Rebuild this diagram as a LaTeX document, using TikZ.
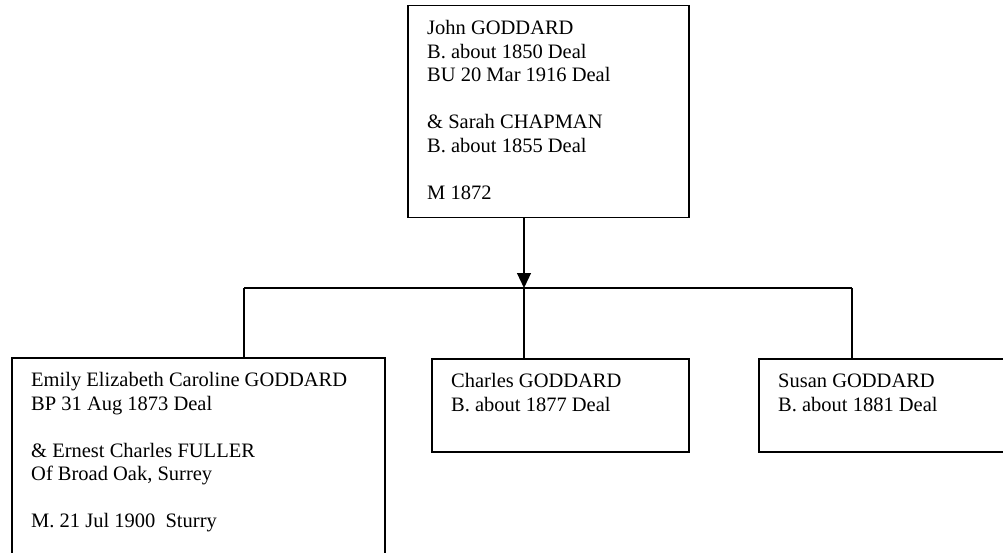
\documentclass[tikz,border=0pt]{standalone}
\usepackage{fontspec}
\setmainfont{Liberation Serif}
\usetikzlibrary{arrows.meta}
\begin{document}
\begin{tikzpicture}[x=1pt,y=-1pt,
  famBox/.style={draw=black, line width=1.5pt, rectangle, inner sep=0pt, anchor=north west},
  famText/.style={anchor=north west, inner sep=0pt, align=left, font=\fontsize{20.5}{23.5}\selectfont, xshift=20pt, yshift=-13pt},
  link/.style={draw=black, line width=1.2pt},
]
\clip (0,0) rectangle (1003,553);
% boxes
\node[famBox, minimum width=281pt, minimum height=212pt] (john) at (407,5) {};
\node[famBox, minimum width=373pt, minimum height=260pt] (emily) at (11,357) {};
\node[famBox, minimum width=257pt, minimum height=93pt] (charles) at (431,358) {};
\node[famBox, minimum width=300pt, minimum height=93pt] (susan) at (758,358) {};
% texts
\node[famText] (johnTxt) at (john.north west) {\strut John GODDARD\\ B. about 1850 Deal\\ BU 20 Mar 1916 Deal\\[23.5pt] \& Sarah CHAPMAN\\ B. about 1855 Deal\\[23.5pt] M 1872};
\node[famText] (emilyTxt) at (emily.north west) {\strut Emily Elizabeth Caroline GODDARD\\ BP 31 Aug 1873 Deal\\[23.5pt] \& Ernest Charles FULLER\\ Of Broad Oak, Surrey\\[23.5pt] M. 21 Jul 1900~~Sturry};
\node[famText] (charlesTxt) at (charles.north west) {\strut Charles GODDARD\\ B. about 1877 Deal};
\node[famText] (susanTxt) at (susan.north west) {\strut Susan GODDARD\\ B. about 1881 Deal};
% connectors
\coordinate (bus) at (524,288);
\coordinate (busL) at (244,288);
\coordinate (busR) at (852,288);
\draw[link, -{Triangle[length=15pt,width=14pt]}] (john.south -| bus) -- (bus);
\draw[link] (busL) -- (busR);
\draw[link] (busL) -- (emily.north -| busL);
\draw[link] (bus) -- (charles.north -| bus);
\draw[link] (busR) -- (susan.north -| busR);
\end{tikzpicture}
\end{document}
